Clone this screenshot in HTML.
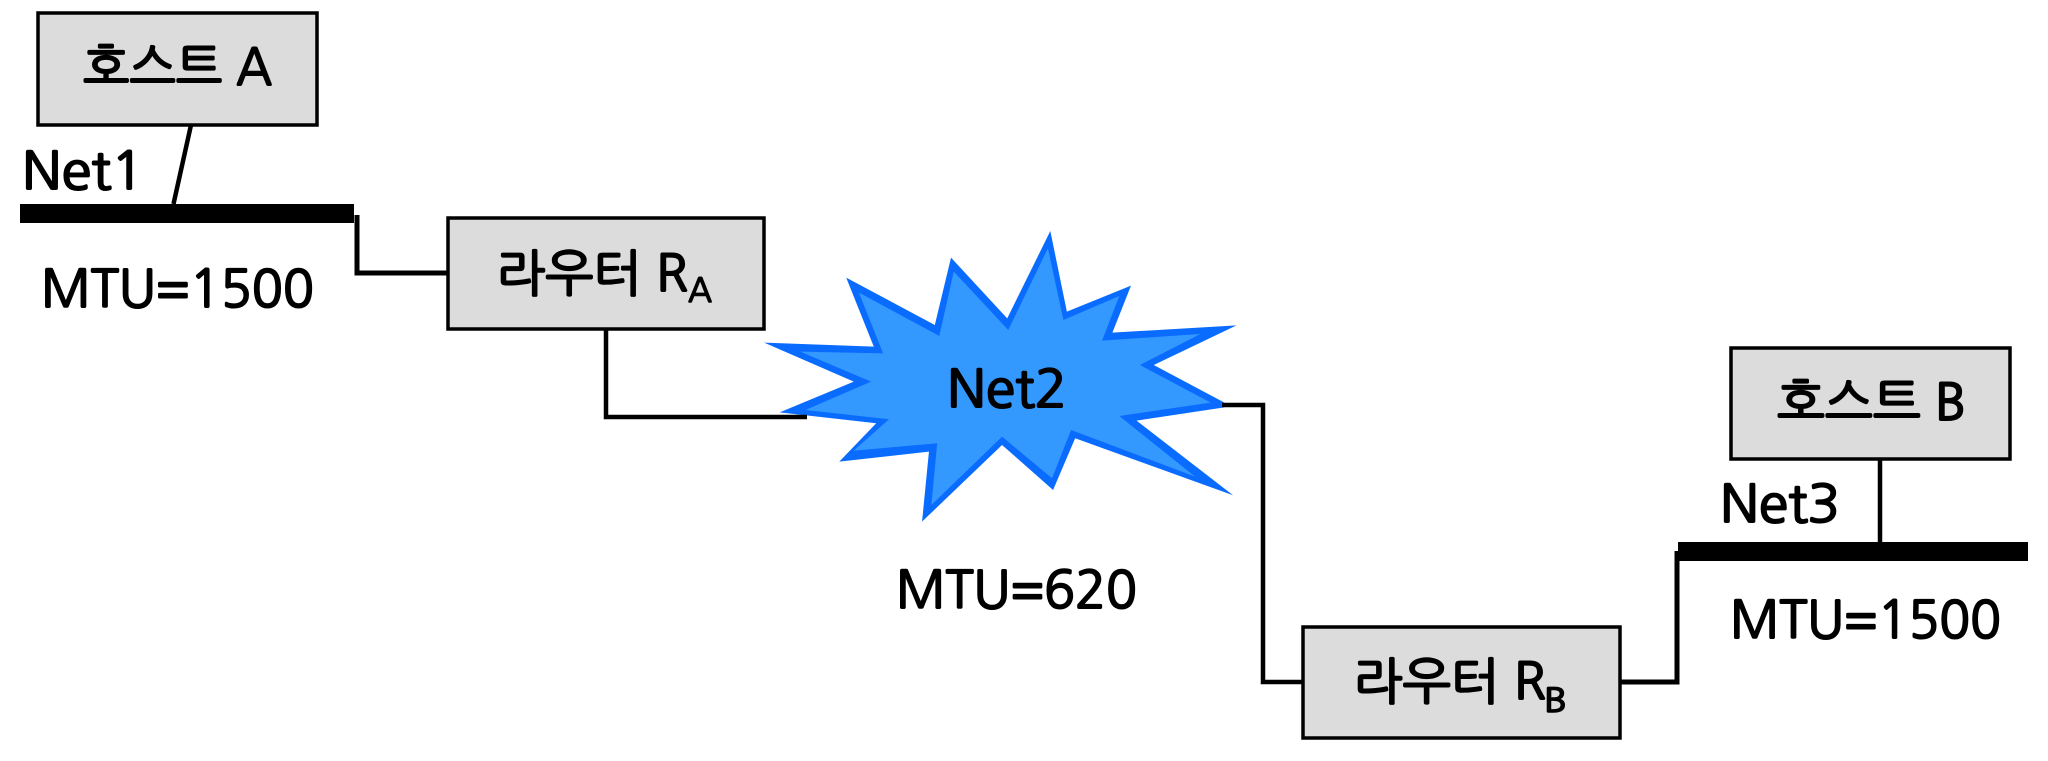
<!DOCTYPE html>
<html lang="ko">
<head>
<meta charset="utf-8">
<style>
html,body{margin:0;padding:0;background:#fff;width:2048px;height:761px;overflow:hidden}
svg{display:block}
text{font-family:"NanumGothic","Liberation Sans","Noto Sans CJK KR",sans-serif;fill:#000;font-size:51px;stroke:#000;stroke-width:2px;stroke-linejoin:round}
.k{font-size:50px}
.s{font-size:33px;stroke-width:1.500px}
</style>
</head>
<body>
<svg width="2048" height="761" viewBox="0 0 2048 761" xmlns="http://www.w3.org/2000/svg">
<rect width="2048" height="761" fill="#fff"/>
<rect x="20" y="204" width="334" height="19"/>
<rect x="1678" y="542" width="350" height="19"/>
<g fill="#dcdcdc" stroke="#000" stroke-width="3.500">
<rect x="38" y="13" width="279" height="112"/>
<rect x="448" y="218" width="316" height="111"/>
<rect x="1303" y="627" width="317" height="111"/>
<rect x="1731" y="348" width="279" height="111"/>
</g>
<g transform="translate(740 210) scale(.3448 .3333)">
<polygon fill="#0a6cff" points="70,398 388,410 308,203 565,345 612,143 775,325 900,63 948,305 1134,227 1080,368 1440,346 1200,465 1405,578 1405,592 1150,632 1430,856 972,685 908,840 760,705 528,935 548,725 288,755 395,640 115,607 330,515"/>
<polygon fill="#3399ff" points="175,425 415,430 345,248 578,378 620,185 778,360 893,115 938,330 1100,258 1050,392 1335,372 1160,465 1365,578 1100,618 1320,800 960,660 905,805 760,680 555,885 572,700 330,722 432,628 190,600 380,515"/>
</g>
<g fill="none" stroke="#000" stroke-width="4.500">
<path d="M191 125L173.500 204"/>
<path d="M357 215V273H447" stroke-width="5"/>
<path d="M606 329V417H807"/>
<path d="M1222 405H1263V682H1302"/>
<path d="M1620 682H1677V551" stroke-width="5"/>
<path d="M1880 459V542"/>
</g>
<text class="k" x="83" y="85" textLength="189" lengthAdjust="spacingAndGlyphs">호스트 A</text>
<text x="22" y="189" textLength="122" lengthAdjust="spacingAndGlyphs">Net1</text>
<text x="41" y="307" textLength="273" lengthAdjust="spacingAndGlyphs">MTU=1500</text>
<text class="k" x="497" y="291" textLength="191" lengthAdjust="spacingAndGlyphs">라우터 R</text>
<text class="s" x="688" y="302" textLength="24" lengthAdjust="spacingAndGlyphs">A</text>
<text x="947" y="407" textLength="120" lengthAdjust="spacingAndGlyphs">Net2</text>
<text x="896" y="608" textLength="241" lengthAdjust="spacingAndGlyphs">MTU=620</text>
<text class="k" x="1354" y="699" textLength="192" lengthAdjust="spacingAndGlyphs">라우터 R</text>
<text class="s" x="1544" y="712" textLength="23" lengthAdjust="spacingAndGlyphs">B</text>
<text class="k" x="1777" y="420" textLength="189" lengthAdjust="spacingAndGlyphs">호스트 B</text>
<text x="1720" y="522" textLength="120" lengthAdjust="spacingAndGlyphs">Net3</text>
<text x="1730" y="638" textLength="271" lengthAdjust="spacingAndGlyphs">MTU=1500</text>
</svg>
</body>
</html>
